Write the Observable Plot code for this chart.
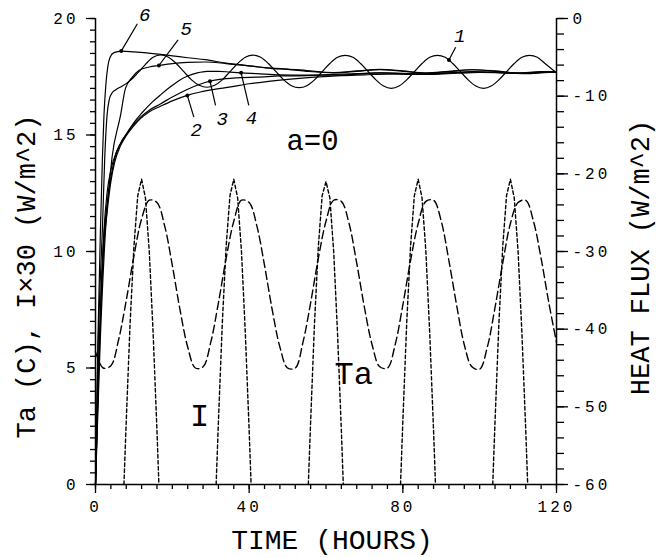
<!DOCTYPE html>
<html><head><meta charset="utf-8">
<script src="https://cdn.jsdelivr.net/npm/d3@7"></script>
<script src="https://cdn.jsdelivr.net/npm/@observablehq/plot@0.6"></script>
<style>
body{margin:0;background:#fff}
g[aria-label="x-axis tick label"] text, g[aria-label="y-axis tick label"] text {letter-spacing:3px}
g[aria-label="left-title"] text {letter-spacing:0.7px}
g[aria-label="right-title"] text {letter-spacing:1px}
g[aria-label="a-label"] text {letter-spacing:3px}
</style></head><body><div id="chart"></div><script>
// ---- axes ticks ----
const xTicks = [0, 40, 80, 120];
const xMinor = d3.range(0, 121, 4);
const yTicks = [0, 5, 10, 15, 20];
const yMinor = d3.range(0, 20.01, 0.5);
const fluxTicks = [0, -10, -20, -30, -40, -50, -60];
const fluxMinor = d3.range(-60, 0.01, 2);

// ---- air temperature Ta (C), every 2 hours ----
const taHours = d3.range(0, 121, 2);
const taValues = [
  5.7, 5.0, 5.1, 6.2, 7.9, 9.8, 11.4, 12.2, 12.1, 11.1, 9.4, 7.5,
  5.9, 5.0, 5.05, 6.1, 7.8, 9.7, 11.3, 12.2, 12.1, 11.1, 9.4, 7.5,
  5.9, 5.0, 5.0, 6.1, 7.8, 9.7, 11.3, 12.2, 12.15, 11.2, 9.5, 7.6,
  6.0, 5.05, 5.0, 6.0, 7.7, 9.6, 11.2, 12.15, 12.2, 11.3, 9.6, 7.7,
  6.0, 5.05, 4.95, 5.9, 7.6, 9.5, 11.2, 12.1, 12.2, 11.3, 9.7, 7.8, 6.1
];

// ---- solar radiation I x 30, daylight pulses ----
const iDayStarts = [0, 24, 48, 72, 96];
const iHourOfDay = [7.4, 8, 9, 10, 11, 12, 13, 14, 15, 16, 16.5];
const iDay1 = [0, 2.7, 6.9, 10.2, 12.4, 13.1, 12.3, 10.0, 6.5, 2.3, 0];
const iDay2 = [0, 2.7, 6.9, 10.2, 12.4, 13.1, 12.3, 10.0, 6.5, 2.3, 0];
const iDay3 = [0, 2.7, 6.9, 10.2, 12.4, 13.0, 12.3, 10.0, 6.5, 2.3, 0];
const iDay4 = [0, 2.7, 6.9, 10.2, 12.4, 13.1, 12.3, 10.0, 6.5, 2.3, 0];
const iDay5 = [0, 2.7, 6.9, 10.2, 12.4, 13.1, 12.3, 10.0, 6.5, 2.3, 0];

// ---- heat flux curves (W/m^2), [hour, flux] ----
const curve1 = [[0,-60],[0.6,-44],[1.3,-33],[1.8,-27],[2.4,-18],[3.0,-12.5],[3.6,-10.4],[4.3,-9.6],[5.2,-9.2],[7,-8.7],[9,-8.0],[11,-7.0],[13,-5.9],[15,-5.0],[17,-4.7],[19,-5.0],[21,-5.8],[23,-6.85],[25,-7.9],[27,-8.6],[29,-8.85],[31,-8.6],[33,-7.9],[35,-6.85],[37,-5.8],[39,-5.0],[41,-4.72],[43,-5.0],[45,-5.8],[47,-6.85],[49,-7.9],[51,-8.65],[53,-8.9],[55,-8.65],[57,-7.9],[59,-6.85],[61,-5.8],[63,-5.0],[65,-4.75],[67,-5.0],[69,-5.8],[71,-6.85],[73,-7.9],[75,-8.7],[77,-9.0],[79,-8.7],[81,-7.9],[83,-6.85],[85,-5.8],[87,-5.0],[89,-4.75],[91,-5.0],[93,-5.8],[95,-6.85],[97,-7.9],[99,-8.7],[101,-9.0],[103,-8.7],[105,-7.9],[107,-6.85],[109,-5.8],[111,-5.0],[113,-4.75],[115,-5.0],[117,-5.8],[119,-6.6],[120,-7.0]];
const curve2 = [[0,-60],[0.8,-46],[1.5,-36],[2.2,-29],[3,-25],[4,-21],[5,-18.5],[6.5,-16.4],[8,-15.1],[10,-13.8],[11.7,-12.9],[14,-12.0],[16.9,-11.3],[20,-10.6],[23.9,-9.9],[27,-9.5],[30,-9.2],[35.2,-8.8],[40,-8.4],[45,-8.1],[50.8,-7.8],[57,-7.55],[63.8,-7.35],[70,-7.25],[76,-7.15],[82,-7.2],[88,-7.2],[94,-7.05],[100,-6.95],[106,-7.0],[112,-7.1],[118,-6.95],[120,-6.95]];
const curve3 = [[0,-60],[0.8,-45],[1.5,-35],[2.2,-28],[3,-24],[4,-20.5],[5,-18],[6.5,-16.1],[8,-14.9],[10,-13.6],[11.7,-12.7],[14,-11.8],[16.9,-11.0],[20,-10.1],[24,-9.1],[27,-8.5],[29.8,-8.07],[33,-7.8],[38,-7.6],[42,-7.55],[48,-7.4],[55,-7.35],[62,-7.2],[68,-7.1],[74,-7.0],[80,-7.1],[86,-7.15],[92,-7.0],[98,-6.9],[104,-6.95],[110,-7.05],[116,-6.95],[120,-6.9]];
const curve4 = [[0,-60],[0.8,-45],[1.5,-35],[2.2,-27.3],[3,-22.5],[4,-19.5],[5.6,-17.0],[7.5,-15.3],[10,-13.4],[12,-12.2],[14.7,-10.8],[17,-9.8],[19.5,-8.8],[21.7,-8.0],[24,-7.4],[26.5,-7.0],[29,-6.8],[32,-6.8],[35,-6.9],[37.9,-7.0],[42,-7.1],[48,-7.25],[55,-7.3],[62,-7.3],[68,-7.15],[74,-7.0],[80,-7.05],[86,-7.15],[92,-7.0],[98,-6.85],[104,-6.9],[110,-7.05],[116,-6.95],[120,-6.9]];
const curve5 = [[0,-60],[1.2,-42],[2.6,-27.3],[4.3,-17.9],[6.5,-12.5],[7.8,-9.0],[9.5,-7.6],[11.3,-6.7],[14,-6.25],[16.5,-6.05],[20,-5.8],[24,-5.65],[28.6,-5.6],[34,-5.8],[40,-6.1],[46,-6.45],[50,-6.55],[55,-6.8],[62,-7.0],[68,-6.8],[74,-6.6],[80,-6.8],[86,-7.05],[92,-6.85],[98,-6.6],[104,-6.8],[110,-7.05],[116,-6.9],[120,-6.9]];
const curve6 = [[0,-60],[0.6,-42],[1.3,-27],[1.8,-18],[2.2,-12.5],[2.7,-8.5],[3.2,-6.2],[3.8,-5.0],[4.8,-4.4],[6.7,-4.2],[10,-4.3],[15.6,-4.55],[20,-4.8],[24,-5.05],[28.6,-5.3],[34,-5.75],[40,-6.1],[46,-6.4],[50,-6.5],[55,-6.7],[62,-6.95],[68,-6.75],[74,-6.55],[80,-6.75],[86,-7.0],[92,-6.8],[98,-6.6],[104,-6.75],[110,-7.0],[116,-6.85],[120,-6.85]];

// ---- curve number annotations ----
const curveNames = ["1", "2", "3", "4", "5", "6"];
const markT = [92, 23.9, 29.8, 37.9, 16.5, 6.7];
const markFlux = [-5.35, -9.9, -8.07, -7.0, -6.05, -4.2];
const leaderT = [93.75, 25.6, 31.25, 39.9, 21.5, 10.9];
const leaderFlux = [-3.7, -12.7, -11.2, -11.2, -2.74, -0.68];
const nameT = [94.8, 26.2, 33.0, 40.6, 23.6, 12.8];
const nameFlux = [-2.2, -14.4, -12.9, -12.8, -1.4, 0.5];

// ---- free text labels ----
const noteTexts = ["I", "Ta"];
const noteT = [27.1, 67.2];
const noteY = [2.96, 4.76];
const aText = "a=0";
const aT = 56.5, aY = 14.76;

const xTitle = "TIME (HOURS)";
const yTitle = "Ta (C), I×30 (W/m^2)";
const y2Title = "HEAT FLUX (W/m^2)";

// ---- build tables ----
const toLeft = f => 20 + f / 3;
const taData = taHours.map((t, i) => ({t, v: taValues[i]}));
const iDays = [iDay1, iDay2, iDay3, iDay4, iDay5];
const iData = iDays.flatMap((vals, k) => vals.map((v, j) => ({day: k, t: iDayStarts[k] + iHourOfDay[j], v})));
const curves = {"1": curve1, "2": curve2, "3": curve3, "4": curve4, "5": curve5, "6": curve6};
const fluxData = Object.entries(curves).flatMap(([name, pts]) => pts.map(([t, f]) => ({name, t, f})));
const ann = curveNames.map((n, i) => ({n, mt: markT[i], mf: markFlux[i], lt: leaderT[i], lf: leaderFlux[i], nt: nameT[i], nf: nameFlux[i]}));
const notes = noteTexts.map((s, i) => ({s, t: noteT[i], y: noteY[i]}));

const FONT = "Liberation Mono";
const chart = Plot.plot({
  width: 661, height: 558,
  marginLeft: 95, marginRight: 105, marginTop: 18, marginBottom: 74,
  x: {domain: [0, 120]},
  y: {domain: [0, 20]},
  style: {fontFamily: FONT, color: "black", background: "white"},
  marks: [
    Plot.line(taData, {x: "t", y: "v", curve: "catmull-rom", stroke: "black", strokeWidth: 1.4, strokeDasharray: "8,4"}),
    Plot.line(iData, {x: "t", y: "v", z: "day", stroke: "black", strokeWidth: 1.4, strokeDasharray: "3.5,2.5"}),
    Plot.line(fluxData, {x: "t", y: d => toLeft(d.f), z: "name", curve: "monotone-x", stroke: "black", strokeWidth: 1.2}),
    Plot.link(ann, {x1: "mt", y1: d => toLeft(d.mf), x2: "lt", y2: d => toLeft(d.lf), stroke: "black", strokeWidth: 1.2}),
    Plot.dot(ann, {x: "mt", y: d => toLeft(d.mf), r: 2, fill: "black"}),
    Plot.text(ann, {x: "nt", y: d => toLeft(d.nf), text: "n", fontSize: 19, fontStyle: "italic", fontFamily: FONT}),
    Plot.text(notes, {x: "t", y: "y", text: "s", fontSize: 32, fontFamily: FONT}),
    Plot.text([aText], {x: () => aT, y: () => aY, text: d => d, fontSize: 29, fontFamily: FONT, ariaLabel: "a-label"}),
    // axes
    Plot.axisX(xMinor, {tickSize: 5, tickFormat: () => "", label: null, strokeWidth: 1.3}),
    Plot.axisX(xTicks, {tickSize: 9, tickPadding: 7, fontSize: 16, label: null, strokeWidth: 1.3, tickFormat: d => String(d)}),
    Plot.axisY(yMinor, {tickSize: 5, tickFormat: () => "", label: null, strokeWidth: 1.3}),
    Plot.axisY(yTicks, {tickSize: 9, tickPadding: 8, fontSize: 16, label: null, strokeWidth: 1.3, tickFormat: d => String(d)}),
    Plot.axisY(fluxMinor.map(toLeft), {anchor: "right", tickSize: 7, tickFormat: () => "", label: null, strokeWidth: 1.3}),
    Plot.axisY(fluxTicks.map(toLeft), {anchor: "right", tickSize: 11, tickPadding: 5, fontSize: 16, label: null, strokeWidth: 1.3, tickFormat: v => String(Math.round((v - 20) * 3))}),
    Plot.ruleY([0], {stroke: "black", strokeWidth: 1.5}),
    Plot.ruleX([0, 120], {stroke: "black", strokeWidth: 1.5}),
    // titles
    Plot.text([xTitle], {frameAnchor: "bottom", dx: 6, dy: 56, text: d => d, fontSize: 28, fontFamily: FONT, lineAnchor: "middle"}),
    Plot.text([yTitle], {frameAnchor: "left", dx: -69, dy: 25, rotate: -90, textAnchor: "middle", text: d => d, fontSize: 27, fontFamily: FONT, ariaLabel: "left-title"}),
    Plot.text([y2Title], {frameAnchor: "right", dx: 84, dy: 6, rotate: -90, textAnchor: "middle", text: d => d, fontSize: 27, fontFamily: FONT, ariaLabel: "right-title"})
  ]
});
document.getElementById("chart").appendChild(chart);
</script></body></html>
